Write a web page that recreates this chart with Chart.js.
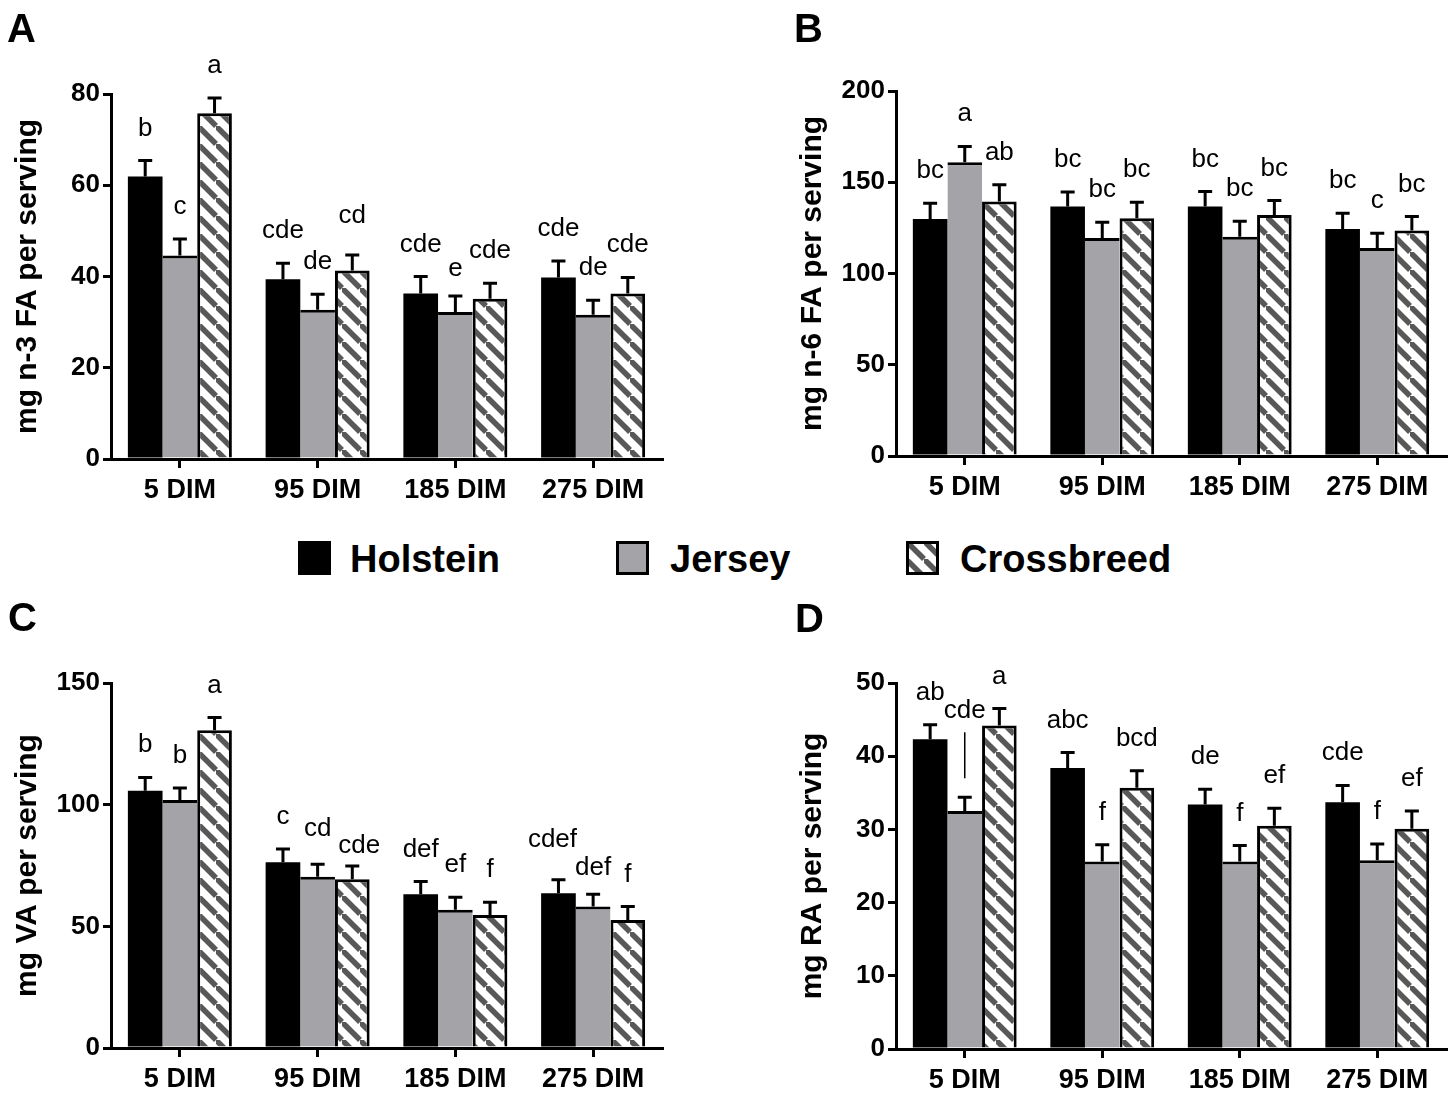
<!DOCTYPE html>
<html>
<head>
<meta charset="utf-8">
<script src="https://cdn.jsdelivr.net/npm/chart.js@4.4.1/dist/chart.umd.min.js"></script>
<style>
body { margin: 0; background: #fff; width: 1453px; height: 1093px; position: relative; overflow: hidden;
       font-family: "Liberation Sans", Arial, sans-serif; }
canvas.panel { position: absolute; }
.lg-box { position: absolute; top: 541px; width: 33px; height: 34px; }
.lg-text { position: absolute; top: 540px; font-size: 38px; line-height: 38px; font-weight: bold; color: #000; white-space: nowrap; }
</style>
</head>
<body>
<canvas id="cA" class="panel" width="700" height="520" style="left:0;top:0"></canvas>
<canvas id="cB" class="panel" width="673" height="520" style="left:780px;top:0"></canvas>
<canvas id="cC" class="panel" width="700" height="503" style="left:0;top:590px"></canvas>
<canvas id="cD" class="panel" width="673" height="503" style="left:780px;top:590px"></canvas>
<div id="legend"></div>
<script>
var dimLabels = ['5 DIM', '95 DIM', '185 DIM', '275 DIM'];
var breeds = ['Holstein', 'Jersey', 'Crossbreed'];

// A - n-3 FA (mean, SEM, letters) per breed
var n3Holstein = [61.9, 39.4, 36.3, 39.8];
var n3Jersey   = [44.6, 32.7, 32.2, 31.6];
var n3Cross    = [75.8, 41.3, 35.1, 36.3];
var n3Sem      = [[3.5, 3.5, 3.7, 3.6], [3.6, 3.4, 3.5, 3.2], [3.3, 3.4, 3.4, 3.5]];
var n3Letters  = [['b', 'cde', 'cde', 'cde'], ['c', 'de', 'e', 'de'], ['a', 'cd', 'cde', 'cde']];
var n3Ticks    = [0, 20, 40, 60, 80];

// B - n-6 FA
var n6Holstein = [129.9, 136.7, 136.7, 124.4];
var n6Jersey   = [161.0, 119.5, 120.2, 114.0];
var n6Cross    = [139.4, 130.3, 132.1, 123.5];
var n6Sem      = [[8.6, 7.9, 8.2, 8.6], [8.6, 8.6, 8.4, 8.0], [9.2, 8.8, 7.9, 7.7]];
var n6Letters  = [['bc', 'bc', 'bc', 'bc'], ['a', 'bc', 'bc', 'c'], ['ab', 'bc', 'bc', 'bc']];
var n6Ticks    = [0, 50, 100, 150, 200];

// C - VA
var vaHolstein = [105.7, 76.3, 63.2, 63.6];
var vaJersey   = [101.9, 70.4, 56.8, 58.1];
var vaCross    = [130.6, 69.3, 54.7, 52.6];
var vaSem      = [[5.5, 5.5, 5.2, 5.5], [5.0, 5.1, 5.2, 5.1], [5.2, 5.5, 5.2, 5.5]];
var vaLetters  = [['b', 'c', 'def', 'cdef'], ['b', 'cd', 'ef', 'def'], ['a', 'cde', 'f', 'f']];
var vaTicks    = [0, 50, 100, 150];

// D - RA
var raHolstein = [42.3, 38.4, 33.4, 33.7];
var raJersey   = [32.5, 25.6, 25.6, 25.8];
var raCross    = [44.2, 35.7, 30.5, 30.1];
var raSem      = [[2.0, 2.1, 2.1, 2.3], [1.9, 2.3, 2.2, 2.2], [2.3, 2.3, 2.4, 2.4]];
var raLetters  = [['ab', 'abc', 'de', 'cde'], ['cde', 'f', 'f', 'f'], ['a', 'bcd', 'ef', 'ef']];
var raTicks    = [0, 10, 20, 30, 40, 50];

var FONT = '"Liberation Sans", Arial, sans-serif';
Chart.defaults.font.family = FONT;
Chart.defaults.color = '#000';

function makeHatch(ctx) {
	var s = 18;
	var t = document.createElement('canvas');
	t.width = s; t.height = s;
	var c = t.getContext('2d');
	c.fillStyle = '#fff';
	c.fillRect(0, 0, s, s);
	c.strokeStyle = '#585858';
	c.lineWidth = 5.5;
	[[0, 0, s, s], [-s, 0, 0, s], [0, -s, s, 0]].forEach(function(l) {
		c.beginPath(); c.moveTo(l[0], l[1]); c.lineTo(l[2], l[3]); c.stroke();
	});
	return ctx.createPattern(t, 'repeat');
}

// error bars, group letters and the panel tag
var annotPlugin = {
	id: 'annot',
	afterDatasetsDraw: function(chart, args, opts) {
		var ctx = chart.ctx, y = chart.scales.y;
		ctx.save();
		chart.data.datasets.forEach(function(ds, i) {
			chart.getDatasetMeta(i).data.forEach(function(bar, j) {
				var top = y.getPixelForValue(ds.data[j]);
				var hi = y.getPixelForValue(ds.data[j] + ds.sem[j]);
				ctx.strokeStyle = '#000';
				ctx.lineWidth = 3;
				ctx.beginPath();
				ctx.moveTo(bar.x, top); ctx.lineTo(bar.x, hi);
				ctx.moveTo(bar.x - 7, hi); ctx.lineTo(bar.x + 7, hi);
				ctx.stroke();

				var lx = bar.x, base = hi - 25;
				(opts.nudge || []).forEach(function(r) {
					if (r.ds === i && r.idx === j) {
						lx += r.dx || 0;
						base += r.dy || 0;
						if (r.leader) {
							ctx.lineWidth = 1.5;
							ctx.beginPath();
							ctx.moveTo(bar.x, base + 14); ctx.lineTo(bar.x, hi - 19);
							ctx.stroke();
						}
					}
				});
				ctx.fillStyle = '#000';
				ctx.font = '26px ' + FONT;
				ctx.textAlign = 'center';
				ctx.textBaseline = 'alphabetic';
				ctx.fillText(ds.letters[j], lx, base);
			});
		});
		ctx.font = 'bold 40px ' + FONT;
		ctx.textAlign = 'left';
		ctx.fillText(opts.tag, opts.tagX, opts.tagY);
		ctx.restore();
	}
};

function barChart(p) {
	var ctx = document.getElementById(p.canvas).getContext('2d');
	var fills = ['#000', '#a3a3a8', makeHatch(ctx)];
	var borders = [0, { top: 3, left: 0, right: 0, bottom: 0 }, { top: 3, left: 3, right: 3, bottom: 0 }];
	return new Chart(ctx, {
		type: 'bar',
		data: {
			labels: dimLabels,
			datasets: p.means.map(function(m, i) {
				return {
					label: breeds[i],
					data: m,
					sem: p.sems[i],
					letters: p.letters[i],
					backgroundColor: fills[i],
					borderColor: '#000',
					borderWidth: borders[i],
					borderSkipped: 'start',
					categoryPercentage: 0.755,
					barPercentage: 1.0
				};
			})
		},
		options: {
			responsive: false,
			animation: false,
			layout: { padding: { top: p.padTop, right: p.padRight, left: 0, bottom: 0 } },
			plugins: {
				legend: { display: false },
				tooltip: { enabled: false },
				annot: { tag: p.tag, tagX: p.tagX, tagY: p.tagY, nudge: p.nudge }
			},
			scales: {
				x: {
					grid: { display: true, drawOnChartArea: false, drawTicks: true, tickLength: 9, lineWidth: 3, color: '#000', offset: false },
					border: { display: true, width: 3, color: '#000' },
					ticks: { font: { size: 27, weight: 'bold' }, color: '#000', padding: 6, maxRotation: 0 },
					afterFit: function(s) { s.height = p.xHeight; }
				},
				y: {
					min: p.ticks[0],
					max: p.ticks[p.ticks.length - 1],
					afterBuildTicks: function(s) { s.ticks = p.ticks.map(function(v) { return { value: v }; }); },
					grid: { display: true, drawOnChartArea: false, drawTicks: true, tickLength: 8, lineWidth: 3, color: '#000' },
					border: { display: true, width: 3, color: '#000' },
					ticks: { font: { size: 26, weight: 'bold' }, color: '#000', padding: 3 },
					title: { display: true, text: p.title, font: { size: 30, weight: 'bold' }, color: '#000', padding: { top: p.titlePad, bottom: 0 } },
					afterFit: function(s) { s.width = p.yWidth; }
				}
			}
		},
		plugins: [annotPlugin]
	});
}

barChart({ canvas: 'cA', tag: 'A', tagX: 7, tagY: 42, title: 'mg n-3 FA per serving',
	means: [n3Holstein, n3Jersey, n3Cross], sems: n3Sem, letters: n3Letters, ticks: n3Ticks,
	padTop: 94, padRight: 38, yWidth: 111, xHeight: 61, titlePad: 10,
	nudge: [{ ds: 2, idx: 1, dy: -7 }, { ds: 1, idx: 2, dy: 5 }] });
barChart({ canvas: 'cB', tag: 'B', tagX: 14, tagY: 42, title: 'mg n-6 FA per serving',
	means: [n6Holstein, n6Jersey, n6Cross], sems: n6Sem, letters: n6Letters, ticks: n6Ticks,
	padTop: 91, padRight: 7, yWidth: 116, xHeight: 64, titlePad: 15 });
barChart({ canvas: 'cC', tag: 'C', tagX: 8, tagY: 41, title: 'mg VA per serving',
	means: [vaHolstein, vaJersey, vaCross], sems: vaSem, letters: vaLetters, ticks: vaTicks,
	padTop: 93, padRight: 38, yWidth: 111, xHeight: 45, titlePad: 10,
	nudge: [{ ds: 2, idx: 1, dx: 7, dy: 12 }, { ds: 0, idx: 3, dx: -6, dy: -8 }, { ds: 1, idx: 3, dy: 6 }, { ds: 1, idx: 1, dy: -3 }] });
barChart({ canvas: 'cD', tag: 'D', tagX: 15, tagY: 42, title: 'mg RA per serving',
	means: [raHolstein, raJersey, raCross], sems: raSem, letters: raLetters, ticks: raTicks,
	padTop: 93, padRight: 7, yWidth: 116, xHeight: 44, titlePad: 15,
	nudge: [{ ds: 1, idx: 0, dy: -54, leader: true }] });

// shared legend
function showLegend() {
	var boxX = [298, 616, 906], textX = [350, 670, 960];
	var fills = ['#000', '#a3a3a8', null];
	var lg = document.getElementById('legend');
	breeds.forEach(function(name, i) {
		var c = document.createElement('canvas');
		c.width = 33; c.height = 34;
		c.className = 'lg-box';
		c.style.left = boxX[i] + 'px';
		var g = c.getContext('2d');
		g.fillStyle = fills[i] || makeHatch(g);
		g.fillRect(0, 0, 33, 34);
		g.strokeStyle = '#000';
		g.lineWidth = 3;
		g.strokeRect(1.5, 1.5, 30, 31);
		lg.appendChild(c);
		var t = document.createElement('div');
		t.className = 'lg-text';
		t.style.left = textX[i] + 'px';
		t.textContent = name;
		lg.appendChild(t);
	});
}
showLegend();
</script>
</body>
</html>
